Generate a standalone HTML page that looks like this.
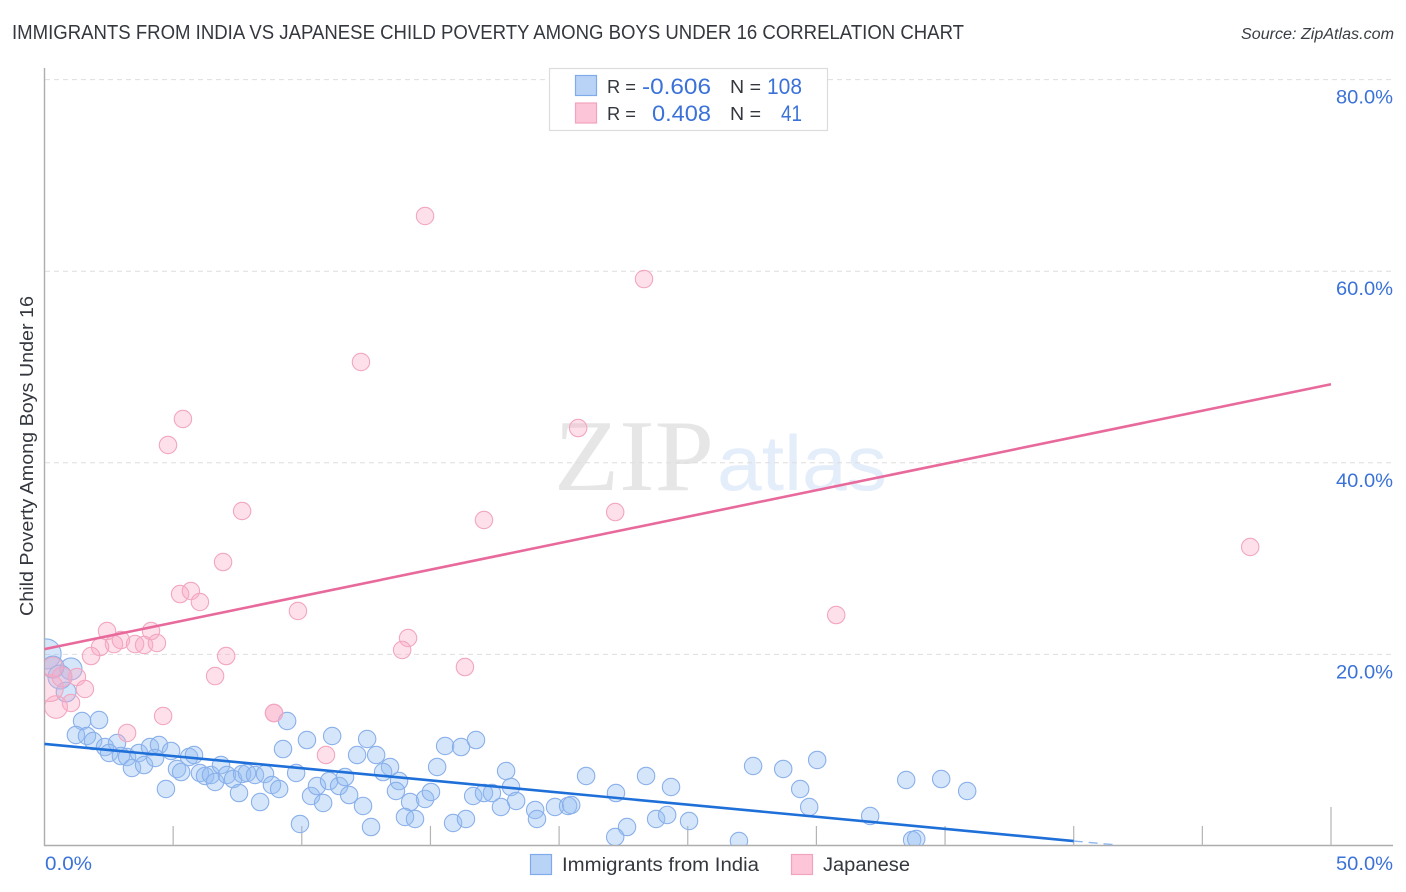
<!DOCTYPE html>
<html lang="en">
<head>
<meta charset="utf-8">
<title>Immigrants from India vs Japanese Child Poverty Among Boys Under 16 Correlation Chart</title>
<style>
html,body{margin:0;padding:0;background:#fff;}
body{width:1406px;height:892px;overflow:hidden;font-family:"Liberation Sans",sans-serif;}
svg{display:block;}
text{font-family:"Liberation Sans",sans-serif;}
</style>
</head>
<body>
<svg id="chart" xmlns="http://www.w3.org/2000/svg" width="1406" height="892" viewBox="0 0 1406 892">
  <defs>
    <clipPath id="plot-clip"><rect x="45" y="60" width="1348" height="785"></rect></clipPath>
  </defs>
  <text x="12" y="39" font-size="20" fill="#34383e" textLength="952" lengthAdjust="spacingAndGlyphs">IMMIGRANTS FROM INDIA VS JAPANESE CHILD POVERTY AMONG BOYS UNDER 16 CORRELATION CHART</text>
  <text x="1241" y="39" font-size="15.5" font-style="italic" fill="#3a3e44" textLength="153" lengthAdjust="spacingAndGlyphs">Source: ZipAtlas.com</text>

  <g>
    <text x="554" y="490" font-size="102" fill="#e6e6e6" textLength="160" lengthAdjust="spacingAndGlyphs" style="font-family:'Liberation Serif',serif">ZIP</text>
    <text x="717" y="490" font-size="78" fill="#e4edfa" textLength="170" lengthAdjust="spacingAndGlyphs">atlas</text>
  </g>

  <g id="grid"></g>
  <g id="axes"></g>
  <g id="india-points" clip-path="url(#plot-clip)"></g>
  <g id="japanese-points" clip-path="url(#plot-clip)"></g>
  <g id="trends"></g>
  <g id="labels"></g>

  <text transform="translate(33,456) rotate(-90)" text-anchor="middle" font-size="18" fill="#34383e" textLength="320" lengthAdjust="spacingAndGlyphs">Child Poverty Among Boys Under 16</text>

  <g>
    <rect x="549.5" y="68.5" width="278" height="62" fill="#fff" stroke="#dcdcdc" stroke-width="1.2"></rect>
    <rect x="575.5" y="75.5" width="21" height="20" fill="#b9d3f7" stroke="#80abea" stroke-width="1.2"></rect>
    <rect x="575.5" y="103" width="21" height="20" fill="#fcc5d8" stroke="#f2a3bf" stroke-width="1.2"></rect>
    <text x="607" y="93" font-size="18" fill="#34383e" textLength="29" lengthAdjust="spacingAndGlyphs">R =</text>
    <text x="642" y="94" font-size="22" fill="#3a72d8" textLength="69" lengthAdjust="spacingAndGlyphs">-0.606</text>
    <text x="730" y="93" font-size="18" fill="#34383e" textLength="31" lengthAdjust="spacingAndGlyphs">N =</text>
    <text x="767" y="94" font-size="22" fill="#3a72d8" textLength="35" lengthAdjust="spacingAndGlyphs">108</text>
    <text x="607" y="120" font-size="18" fill="#34383e" textLength="29" lengthAdjust="spacingAndGlyphs">R =</text>
    <text x="652" y="121" font-size="22" fill="#3a72d8" textLength="59" lengthAdjust="spacingAndGlyphs">0.408</text>
    <text x="730" y="120" font-size="18" fill="#34383e" textLength="31" lengthAdjust="spacingAndGlyphs">N =</text>
    <text x="781" y="121" font-size="22" fill="#3a72d8" textLength="21" lengthAdjust="spacingAndGlyphs">41</text>
  </g>

  <g>
    <rect x="530.5" y="854.5" width="21" height="20" fill="#b9d3f7" stroke="#80abea" stroke-width="1.2"></rect>
    <text x="562" y="871" font-size="19" fill="#34383e" textLength="197" lengthAdjust="spacingAndGlyphs">Immigrants from India</text>
    <rect x="791.5" y="854.5" width="21" height="20" fill="#fcc5d8" stroke="#f2a3bf" stroke-width="1.2"></rect>
    <text x="823" y="871" font-size="19" fill="#34383e" textLength="87" lengthAdjust="spacingAndGlyphs">Japanese</text>
  </g>
</svg>

<script>
const yTickValues = [20, 40, 60, 80];
const yTickLabels = ["20.0%", "40.0%", "60.0%", "80.0%"];
const xTickValues = [0, 5, 10, 15, 20, 25, 30, 35, 40, 45, 50];
const xEndLabels = ["0.0%", "50.0%"];

const indiaX = [0.06,0.33,1.03,0.60,0.84,1.46,2.12,1.22,1.65,1.89,2.35,2.82,2.51,2.97,3.21,3.40,3.67,3.87,4.10,4.45,4.30,4.92,5.15,5.31,4.72,5.62,5.81,6.04,6.24,6.47,6.63,6.86,7.09,7.33,7.56,7.68,7.87,8.18,8.57,8.38,8.84,9.12,9.27,9.43,9.78,10.20,11.18,9.93,10.36,10.59,10.83,11.06,11.45,11.68,11.84,12.54,12.15,12.89,13.43,13.16,13.78,13.66,12.38,12.69,14.21,14.01,14.40,14.79,15.02,15.26,15.57,16.19,16.77,16.66,17.08,17.39,17.74,17.94,18.13,18.33,15.88,16.38,19.07,19.14,19.84,20.35,20.47,21.05,22.21,23.38,24.35,22.64,22.18,23.77,24.20,25.05,27.54,28.71,30.03,29.37,29.72,32.09,33.49,34.85,35.86,26.99,33.72,33.88];
const indiaY = [20.04,18.68,18.48,17.64,16.07,13.05,13.15,11.59,11.48,10.96,10.33,10.75,9.71,9.39,9.29,8.14,9.71,8.45,10.33,10.54,9.19,9.92,8.04,7.72,5.95,9.29,9.50,7.62,7.31,7.41,6.68,8.45,7.41,6.99,5.53,7.52,7.62,7.41,7.52,4.59,6.37,5.95,10.12,13.05,7.62,11.06,11.48,2.30,5.22,6.26,4.49,6.78,6.26,7.20,5.32,11.17,9.50,9.50,8.25,7.72,6.78,5.74,4.18,1.98,4.59,3.03,2.82,4.91,5.64,8.25,10.44,10.33,11.06,5.22,5.53,5.53,4.07,7.83,6.16,4.70,2.40,2.82,3.76,2.82,4.07,4.18,4.28,7.31,5.53,7.31,6.16,1.98,0.94,2.82,3.24,2.61,8.35,8.04,8.98,5.95,4.07,3.13,6.89,6.99,5.74,0.52,0.63,0.73];
const indiaWeight = [3.0,1.6,1.6,1.9,1.3];

const japaneseX = [14.79,23.30,12.30,5.38,4.80,20.74,7.68,17.08,22.18,6.94,5.27,5.69,6.04,9.85,46.86,30.77,2.43,4.14,2.97,2.70,3.52,3.87,4.37,2.16,1.81,7.06,6.63,14.13,13.90,16.34,1.26,1.57,1.03,0.45,0.21,0.33,0.68,4.61,3.21,8.92,8.92,10.94];
const japaneseY = [65.76,59.18,50.52,44.57,41.86,43.63,34.97,34.03,34.86,29.64,26.30,26.62,25.47,24.53,31.21,24.11,22.44,22.44,21.50,21.08,21.08,20.98,21.19,20.77,19.83,19.83,17.74,21.71,20.46,18.68,17.64,16.39,14.93,14.51,16.49,18.68,17.64,13.57,11.80,13.88,13.88,9.50];
const japaneseWeight = [1,1,1,1,1,1,1,1,1,1,1,1,1,1,1,1,1,1,1,1,1,1,1,1,1,1,1,1,1,1,1,1,1,1.7,2.4,1.3,1.3];

const indiaTrendX = [0, 40];
const indiaTrendY = [10.65, 0.52];
const indiaExtensionX = [40, 41.7];
const indiaExtensionY = [0.52, 0.1];
const japaneseTrendX = [0, 50];
const japaneseTrendY = [20.55, 48.2];

const SVG_NS = "http://www.w3.org/2000/svg";
const xScale = v => 44.5 + v * 25.73;
const yScale = v => 846 - v * 9.58;
const radiusScale = w => 8.7 * Math.sqrt(w);

function make(tag, attrs, parent) {
  const el = document.createElementNS(SVG_NS, tag);
  for (const k in attrs) el.setAttribute(k, attrs[k]);
  parent.appendChild(el);
  return el;
}

const grid = document.getElementById("grid");
const axes = document.getElementById("axes");
const labels = document.getElementById("labels");
const trends = document.getElementById("trends");

yTickValues.forEach((v, i) => {
  const line = make("line", {x1: 45, x2: 1393, y1: yScale(v), y2: yScale(v), stroke: "#dedede", "stroke-width": 1, "stroke-dasharray": "5 4"}, grid);
  
  
  const t = make("text", {x: 1336, y: yScale(v) + 24, "font-size": 19.5, fill: "#3a72d8", textLength: 57, lengthAdjust: "spacingAndGlyphs"}, labels);
  
  
  t.textContent = yTickLabels[i];
});

const yAxis = make("line", {x1: 44.5, x2: 44.5, y1: 68, y2: 846, stroke: "#adadad", "stroke-width": 1.4}, axes);


const xAxis = make("line", {x1: 44, x2: 1393, y1: 845.5, y2: 845.5, stroke: "#adadad", "stroke-width": 1.4}, axes);



xTickValues.forEach((v, i) => {
  if (i === 0) return;
  const major = i === xTickValues.length - 1;
  const tick = make("line", {x1: xScale(v), x2: xScale(v), y1: major ? 807 : 826, y2: 846, stroke: "#b4b4b4", "stroke-width": 1.2}, axes);
  
  
});

const xLabelLeft = make("text", {x: 45, y: 870, "font-size": 19.5, fill: "#3a72d8", textLength: 47, lengthAdjust: "spacingAndGlyphs"}, labels);


xLabelLeft.textContent = xEndLabels[0];
const xLabelRight = make("text", {x: 1336, y: 870, "font-size": 19.5, fill: "#3a72d8", textLength: 57, lengthAdjust: "spacingAndGlyphs"}, labels);


xLabelRight.textContent = xEndLabels[1];

const indiaGroup = document.getElementById("india-points");
indiaX.forEach((v, i) => {
  const w = indiaWeight[i] === undefined ? 1 : indiaWeight[i];
  const c = make("circle", {cx: xScale(v), cy: yScale(indiaY[i]), r: radiusScale(w), fill: "rgba(147,188,242,0.38)", stroke: "#8ab0ea", "stroke-width": 1.1}, indiaGroup);
  
  
});

const japaneseGroup = document.getElementById("japanese-points");
japaneseX.forEach((v, i) => {
  const w = japaneseWeight[i] === undefined ? 1 : japaneseWeight[i];
  const c = make("circle", {cx: xScale(v), cy: yScale(japaneseY[i]), r: radiusScale(w), fill: "rgba(250,170,198,0.36)", stroke: "#f2a6c0", "stroke-width": 1.1}, japaneseGroup);
  
  
});

const indiaTrend = make("line", {x1: xScale(indiaTrendX[0]), y1: yScale(indiaTrendY[0]), x2: xScale(indiaTrendX[1]), y2: yScale(indiaTrendY[1]), stroke: "#1f6fd9", "stroke-width": 2.6}, trends);


const indiaExt = make("line", {x1: xScale(indiaExtensionX[0]), y1: yScale(indiaExtensionY[0]), x2: xScale(indiaExtensionX[1]), y2: yScale(indiaExtensionY[1]), stroke: "#8db6ee", "stroke-width": 1.4, "stroke-dasharray": "9 6"}, trends);


const japaneseTrend = make("line", {x1: xScale(japaneseTrendX[0]), y1: yScale(japaneseTrendY[0]), x2: xScale(japaneseTrendX[1]), y2: yScale(japaneseTrendY[1]), stroke: "#e86a9c", "stroke-width": 2.6}, trends);


</script>
</body>
</html>
